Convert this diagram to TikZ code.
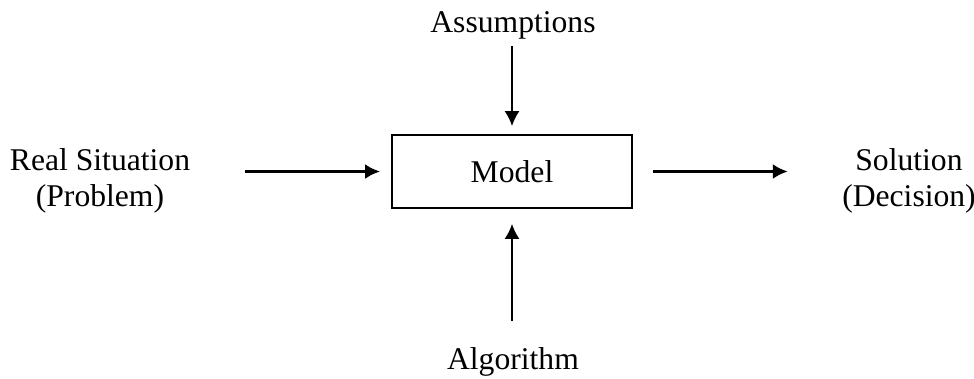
\documentclass[tikz,border=0pt]{standalone}
\usepackage{fontspec}
\setmainfont{Liberation Serif}
\usepackage{tikz}
\usetikzlibrary{positioning, arrows.meta}

\begin{document}
\begin{tikzpicture}[
    >={Latex[width=3mm,length=3mm]},
    block/.style={rectangle, draw=black, line width=1pt, align=center, minimum width=4.8cm, minimum height=1.46cm},
    label/.style={align=center, inner sep=0pt},
    every node/.style={font=\fontsize{18}{20.5}\selectfont},
    flow/.style={->, line width=1.7pt},
    feed/.style={->, line width=1.1pt}
]
\useasboundingbox (0,0) rectangle (19.48,-7.56);

% Nodes
\node[block] (model) at (10.24,-3.43) {Model};
\node[label] (real) at (2.0,-3.62) {Real Situation\\(Problem)};
\node[label] (sol) at (18.18,-3.62) {Solution\\(Decision)};
\node[label] (assum) at (10.26,-0.5) {Assumptions};
\node[label] (algo) at (10.26,-7.24) {Algorithm};

% Horizontal flow
\draw[flow] ([xshift=-2.92cm] model.west) -- ([xshift=-0.22cm] model.west);
\draw[flow] ([xshift=0.4cm] model.east) -- ([xshift=3.1cm] model.east);

% Inputs from above and below
\draw[feed] ([yshift=1.76cm] model.north) -- ([yshift=0.16cm] model.north);
\draw[feed] ([yshift=-2.24cm] model.south) -- ([yshift=-0.3cm] model.south);

\end{tikzpicture}
\end{document}
